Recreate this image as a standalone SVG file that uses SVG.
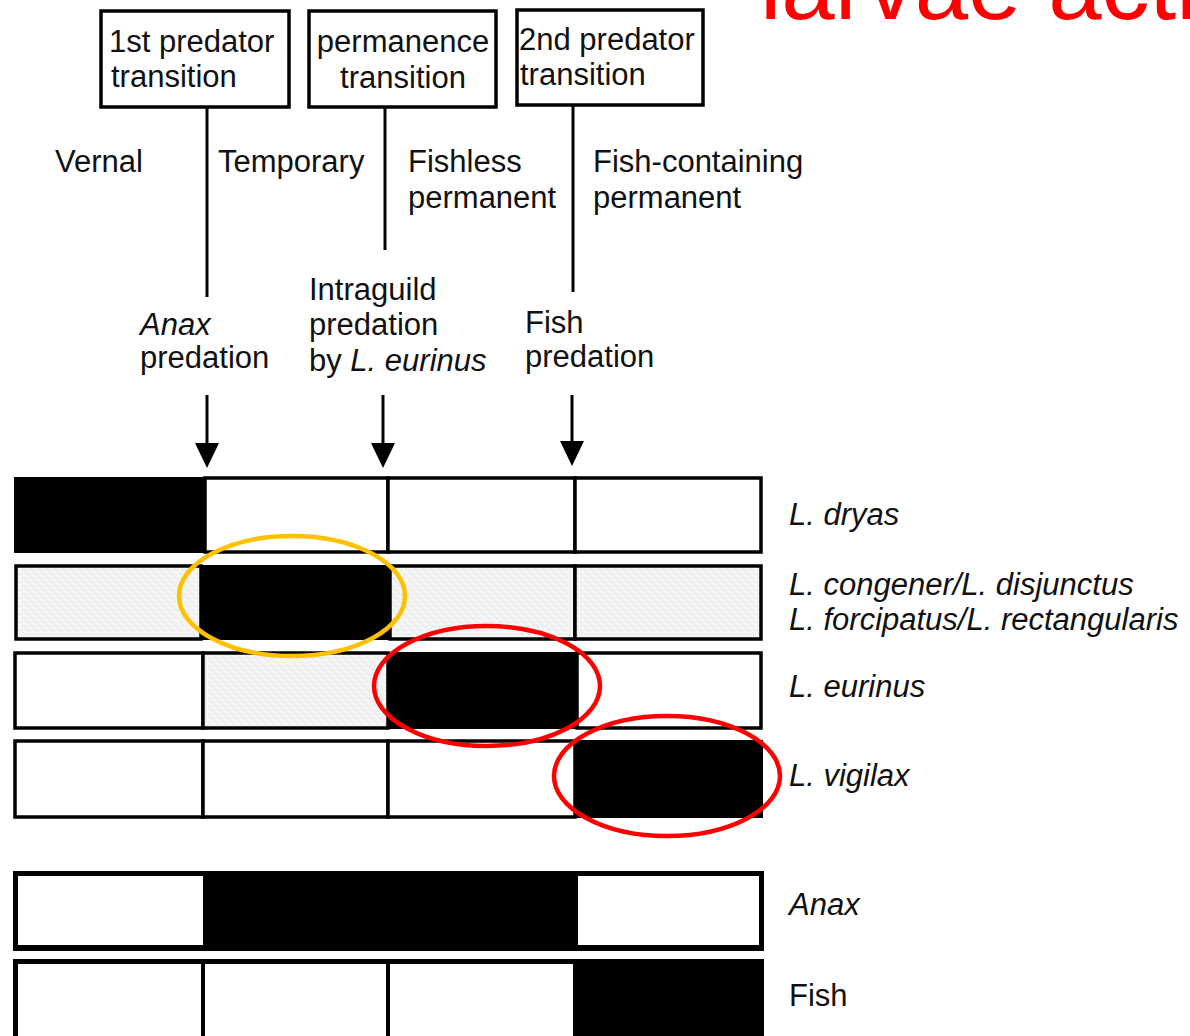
<svg xmlns="http://www.w3.org/2000/svg" width="1190" height="1036" viewBox="0 0 1190 1036">
<style>
text{font-family:"Liberation Sans",Arial,sans-serif;font-size:31px;fill:#111}
.it{font-style:italic}
.box{fill:#fff;stroke:#000;stroke-width:3.5}
.line{stroke:#000;stroke-width:3;fill:none}
.bar{stroke:#000;stroke-width:3.5}
.w{fill:#fff}
.b{fill:#000}
.s{fill:url(#stip)}
.ring{fill:none;stroke-width:4.5}
</style>
<defs>
<pattern id="stip" width="8" height="8" patternUnits="userSpaceOnUse">
<rect width="8" height="8" fill="#f5f5f5"/>
<rect x="1" y="2" width="1" height="1" fill="#c8c8c8"/>
<rect x="5" y="6" width="1" height="1" fill="#d0d0d0"/>
<rect x="6" y="1" width="1" height="1" fill="#dadada"/>
<rect x="3" y="5" width="1" height="1" fill="#e0e0e0"/>
</pattern>
</defs>

<text x="760" y="19" style="font-size:96px;fill:#ff0000">larvae acti</text>

<g id="box-1st">
<rect class="box" x="101" y="11" width="188" height="96"/>
<text x="109" y="52">1st predator</text>
<text x="111" y="87">transition</text>
</g>
<g id="box-perm">
<rect class="box" x="309" y="11" width="187" height="96"/>
<text x="403" y="52" text-anchor="middle">permanence</text>
<text x="403" y="88" text-anchor="middle">transition</text>
</g>
<g id="box-2nd">
<rect class="box" x="517" y="10" width="186" height="95"/>
<text x="519" y="50">2nd predator</text>
<text x="520" y="85">transition</text>
</g>

<g id="connectors">
<line class="line" x1="207" y1="107" x2="207" y2="297"/>
<line class="line" x1="385" y1="107" x2="385" y2="250"/>
<line class="line" x1="573" y1="105" x2="573" y2="292"/>
<line class="line" x1="207" y1="395" x2="207" y2="446"/>
<path d="M195,443 L219,443 L207,468 Z" fill="#000"/>
<line class="line" x1="383" y1="395" x2="383" y2="446"/>
<path d="M371,443 L395,443 L383,468 Z" fill="#000"/>
<line class="line" x1="572" y1="395" x2="572" y2="444"/>
<path d="M560,441 L584,441 L572,466 Z" fill="#000"/>
</g>

<g id="habitat-labels">
<text x="55" y="172">Vernal</text>
<text x="218" y="172">Temporary</text>
<text x="408" y="172">Fishless</text>
<text x="408" y="208">permanent</text>
<text x="593" y="172">Fish-containing</text>
<text x="593" y="208">permanent</text>
</g>

<g id="predation-labels">
<text x="140" y="335" class="it">Anax</text>
<text x="140" y="368">predation</text>
<text x="309" y="300">Intraguild</text>
<text x="309" y="335">predation</text>
<text x="309" y="371">by <tspan class="it">L. eurinus</tspan></text>
<text x="525" y="333">Fish</text>
<text x="525" y="367">predation</text>
</g>

<g id="row-dryas">
<rect class="b" x="14" y="477" width="191" height="76"/>
<rect class="bar w" x="205" y="478" width="183" height="74"/>
<rect class="bar w" x="388" y="478" width="187" height="74"/>
<rect class="bar w" x="575" y="478" width="186" height="74"/>
<text x="789" y="525" class="it">L. dryas</text>
</g>

<g id="row-congener">
<rect class="bar s" x="16" y="566" width="185" height="73"/>
<rect class="bar s" x="390" y="566" width="185" height="73"/>
<rect class="bar s" x="575" y="566" width="186" height="73"/>
<rect class="b" x="200" y="565" width="190" height="75"/>
<text x="789" y="595" class="it">L. congener/L. disjunctus</text>
<text x="789" y="630" class="it">L. forcipatus/L. rectangularis</text>
</g>

<g id="row-eurinus">
<rect class="bar w" x="15" y="653" width="188" height="75"/>
<rect class="bar s" x="203" y="653" width="185" height="75"/>
<rect class="bar w" x="577" y="653" width="184" height="75"/>
<rect class="b" x="388" y="652" width="189" height="77"/>
<text x="789" y="697" class="it">L. eurinus</text>
</g>

<g id="row-vigilax">
<rect class="bar w" x="15" y="741" width="188" height="76"/>
<rect class="bar w" x="203" y="741" width="185" height="76"/>
<rect class="bar w" x="388" y="741" width="187" height="76"/>
<rect class="b" x="575" y="740" width="188" height="78"/>
<text x="789" y="786" class="it">L. vigilax</text>
</g>

<g id="row-anax">
<rect class="b" x="13" y="871" width="751" height="80"/>
<rect class="w" x="18" y="876" width="185" height="69"/>
<rect class="w" x="578" y="876" width="181" height="69"/>
<text x="789" y="915" class="it">Anax</text>
</g>

<g id="row-fish">
<rect class="b" x="13" y="959" width="751" height="80"/>
<rect class="w" x="18" y="964" width="183" height="75"/>
<rect class="w" x="205" y="964" width="181" height="75"/>
<rect class="w" x="390" y="964" width="183" height="75"/>
<text x="789" y="1006">Fish</text>
</g>

<g id="highlights">
<ellipse class="ring" cx="292" cy="596" rx="113" ry="60" stroke="#ffc000"/>
<ellipse class="ring" cx="487" cy="686" rx="113" ry="60" stroke="#ff0000"/>
<ellipse class="ring" cx="667" cy="776" rx="113" ry="60" stroke="#ff0000"/>
</g>
</svg>
